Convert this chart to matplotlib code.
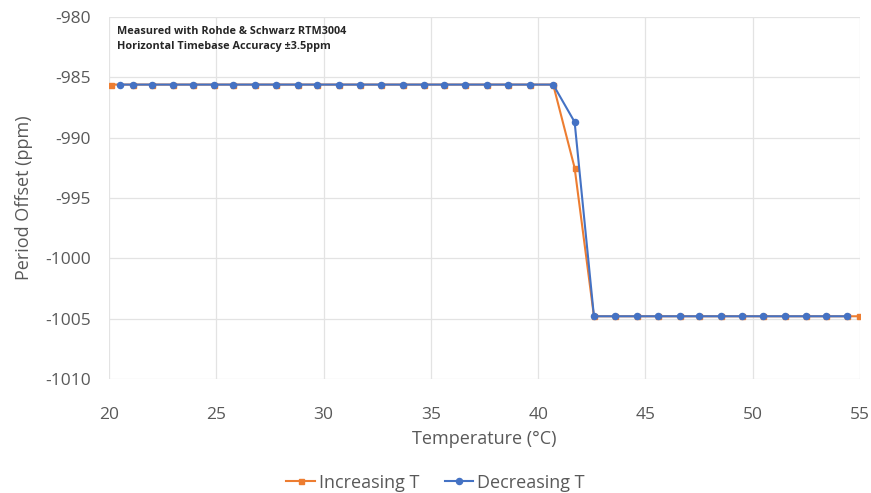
import matplotlib.pyplot as plt

temps_shared = [21.1, 22.0, 23.0, 23.9, 24.9, 25.8, 26.8, 27.8, 28.8, 29.7,
                30.7, 31.7, 32.7, 33.7, 34.7, 35.6, 36.6, 37.6, 38.6, 39.6,
                40.7, 41.7, 42.6, 43.6, 44.6, 45.6, 46.6, 47.5, 48.5, 49.5,
                50.5, 51.5, 52.5, 53.4, 54.4]
inc_temp = [20.1] + temps_shared + [54.95]
inc_offset = [-985.6] * 22 + [-992.5] + [-1004.8] * 14
dec_temp = [20.5] + temps_shared
dec_offset = [-985.6] * 22 + [-988.7] + [-1004.8] * 13

plt.rcParams['font.family'] = ['Open Sans', 'DejaVu Sans']
plt.rcParams['axes.unicode_minus'] = False
fig = plt.figure(figsize=(8.71, 4.93), dpi=100)
ax = fig.add_axes([0.1251, 0.2312, 0.8623, 0.7343])

ax.plot(inc_temp, inc_offset, color='#ED7D31', marker='s', markersize=3.6,
        linewidth=1.5, label='Increasing T')
ax.plot(dec_temp, dec_offset, color='#4472C4', marker='o', markersize=4.4,
        linewidth=1.5, label='Decreasing T')

ax.set_xlim(20, 55)
ax.set_ylim(-1010, -980)
ax.set_xticks(range(20, 56, 5))
ax.set_yticks(range(-1010, -979, 5))
ax.grid(True, color='#e3e3e3', linewidth=0.9)
ax.set_axisbelow(True)
for s in ax.spines.values():
    s.set_visible(False)
ax.tick_params(length=0, labelsize=12.5, colors='#595959')
ax.tick_params(axis='x', pad=20)
ax.tick_params(axis='y', pad=13)
ax.set_xlabel('Temperature (°C)', fontsize=13, color='#595959', labelpad=5)
ax.set_ylabel('Period Offset (ppm)', fontsize=13, color='#595959', labelpad=9)

ax.text(0.011, 0.975, 'Measured with Rohde & Schwarz RTM3004\nHorizontal Timebase Accuracy ±3.5ppm',
        transform=ax.transAxes, fontsize=7.8, fontweight='bold', va='top',
        linespacing=1.55, color='#262626')

fig.legend(loc='lower center', bbox_to_anchor=(0.5, -0.03), ncol=2, frameon=False,
           fontsize=13, labelcolor='#595959', handlelength=1.6, handletextpad=0.2,
           columnspacing=1.4)

fig.savefig('out.png', dpi=100)
